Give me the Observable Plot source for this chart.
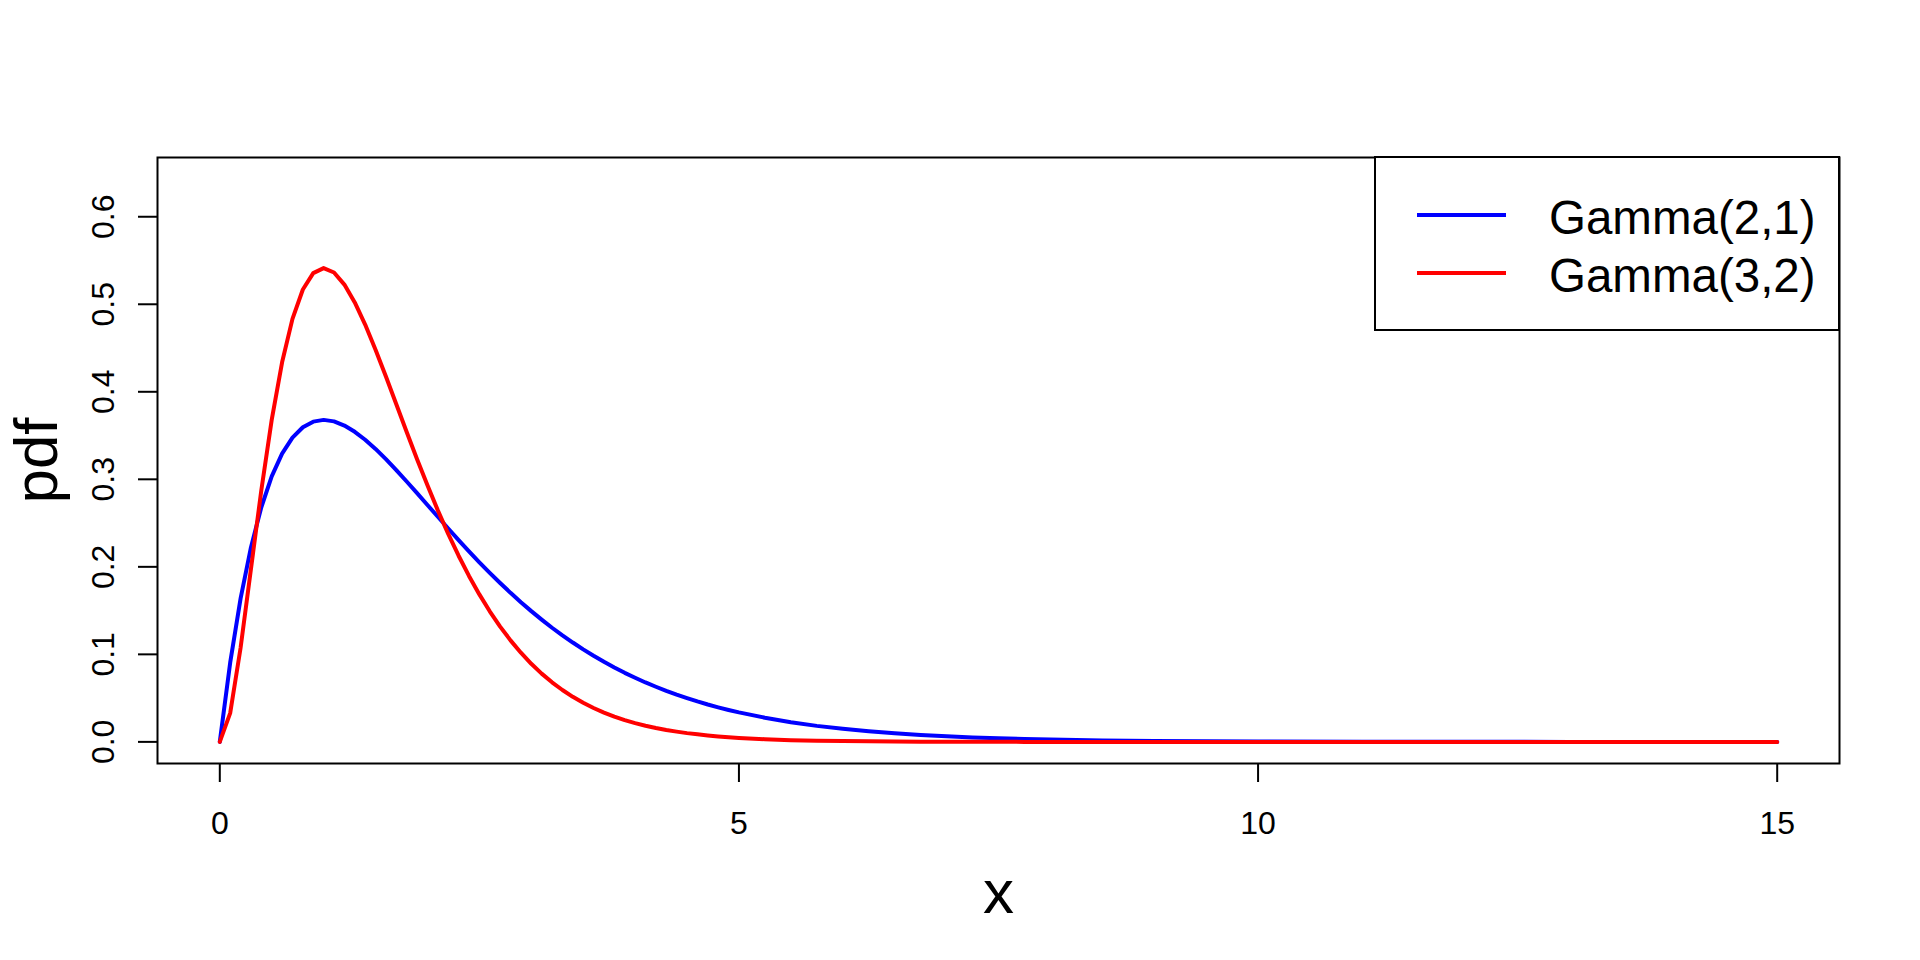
<!DOCTYPE html>
<html>
<head>
<meta charset="utf-8">
<script src="https://cdn.jsdelivr.net/npm/d3@7"></script>
<script src="https://cdn.jsdelivr.net/npm/@observablehq/plot@0.6"></script>
<style>
  html, body { margin: 0; padding: 0; background: #fff; }
  #wrap { position: relative; width: 1920px; height: 960px; }
  #legend { position: absolute; left: 0; top: 0; }
</style>
</head>
<body>
<div id="wrap"></div>
<script>
const xs = [
  0, 0.1, 0.2, 0.3, 0.4, 0.5, 0.6, 0.7, 0.8, 0.9,
  1.0, 1.1, 1.2, 1.3, 1.4, 1.5, 1.6, 1.7, 1.8, 1.9,
  2.0, 2.1, 2.2, 2.3, 2.4, 2.5, 2.6, 2.7, 2.8, 2.9,
  3.0, 3.1, 3.2, 3.3, 3.4, 3.5, 3.6, 3.7, 3.8, 3.9,
  4.0, 4.1, 4.2, 4.3, 4.4, 4.5, 4.6, 4.7, 4.8, 4.9,
  5.0, 5.25, 5.5, 5.75, 6.0, 6.25, 6.5, 6.75, 7.0, 7.25,
  7.5, 7.75, 8.0, 8.5, 9.0, 9.5, 10.0,
  11, 12, 13, 14, 15
];
const gamma21 = [
  0, 0.0905, 0.1637, 0.2222, 0.2681, 0.3033, 0.3293, 0.3476, 0.3595, 0.3659,
  0.3679, 0.3662, 0.3614, 0.3543, 0.3452, 0.3347, 0.3230, 0.3106, 0.2975, 0.2842,
  0.2707, 0.2572, 0.2438, 0.2306, 0.2177, 0.2052, 0.1931, 0.1815, 0.1703, 0.1596,
  0.1494, 0.1397, 0.1304, 0.1217, 0.1135, 0.1057, 0.0984, 0.0915, 0.0850, 0.0789,
  0.0733, 0.0679, 0.0630, 0.0583, 0.0540, 0.0500, 0.0462, 0.0427, 0.0395, 0.0365,
  0.0337, 0.0276, 0.0225, 0.0183, 0.0149, 0.0121, 0.0098, 0.0079, 0.0064, 0.0051,
  0.0041, 0.0033, 0.0027, 0.0017, 0.0011, 0.0007, 0.0005,
  0.0002, 0.0001, 0.0000, 0.0000, 0.0000
];
const gamma32 = [
  0, 0.0328, 0.1073, 0.1976, 0.2876, 0.3679, 0.4337, 0.4833, 0.5169, 0.5356,
  0.5413, 0.5363, 0.5225, 0.5021, 0.4768, 0.4481, 0.4174, 0.3858, 0.3541, 0.3230,
  0.2931, 0.2645, 0.2377, 0.2127, 0.1896, 0.1685, 0.1492, 0.1317, 0.1160, 0.1019,
  0.0892, 0.0780, 0.0681, 0.0593, 0.0515, 0.0447, 0.0387, 0.0335, 0.0289, 0.0249,
  0.0215, 0.0185, 0.0159, 0.0136, 0.0117, 0.0100, 0.0086, 0.0073, 0.0062, 0.0053,
  0.0045, 0.0030, 0.0020, 0.0013, 0.0009, 0.0006, 0.0004, 0.0002, 0.0002, 0.0001,
  0.0001, 0.0000, 0.0000, 0.0000, 0.0000, 0.0000, 0.0000,
  0, 0, 0, 0, 0
];
const seriesNames = ["Gamma(2,1)", "Gamma(3,2)"];
const seriesColors = ["#0000FF", "#FF0000"];
const xTicks = [0, 5, 10, 15];
const yTicks = [0, 0.1, 0.2, 0.3, 0.4, 0.5, 0.6];
const xTitle = "x";
const yTitle = "pdf";

const data21 = xs.map((x, i) => ({x, y: gamma21[i]}));
const data32 = xs.map((x, i) => ({x, y: gamma32[i]}));

const font = "'Liberation Sans', Arial, Helvetica, sans-serif";

const chart = Plot.plot({
  width: 1920,
  height: 960,
  marginLeft: 157,
  marginRight: 81,
  marginTop: 157,
  marginBottom: 197,
  style: {fontSize: "32px", fontFamily: font, color: "#000", background: "#fff"},
  x: {domain: [-0.6, 15.6]},
  y: {domain: [-0.0247, 0.6677]},
  marks: [
    Plot.axisX({ticks: xTicks, tickSize: 19, tickPadding: 29, strokeWidth: 2, label: null, tickFormat: d3.format("d")}),
    Plot.axisY({ticks: yTicks, tickSize: 19, tickPadding: 25, tickRotate: -90, strokeWidth: 2, label: null, tickFormat: d3.format(".1f")}),
    Plot.line(data21, {x: "x", y: "y", stroke: seriesColors[0], strokeWidth: 4}),
    Plot.line(data32, {x: "x", y: "y", stroke: seriesColors[1], strokeWidth: 4}),
    Plot.frame({stroke: "#000", strokeWidth: 2}),
    Plot.text([xTitle], {text: d => d, frameAnchor: "bottom", lineAnchor: "bottom", dy: 149, fontSize: 62}),
    Plot.text([yTitle], {text: d => d, frameAnchor: "left", lineAnchor: "bottom", textAnchor: "middle", rotate: -90, dx: -101, fontSize: 62})
  ]
});

const wrap = document.getElementById("wrap");
wrap.appendChild(chart);

// Legend overlay (top-right, inside plot box)
const NS = "http://www.w3.org/2000/svg";
const lg = document.createElementNS(NS, "svg");
lg.setAttribute("id", "legend");
lg.setAttribute("width", 1920);
lg.setAttribute("height", 960);
const box = document.createElementNS(NS, "rect");
box.setAttribute("x", 1375); box.setAttribute("y", 157);
box.setAttribute("width", 1839 - 1375); box.setAttribute("height", 330 - 157);
box.setAttribute("fill", "#fff"); box.setAttribute("stroke", "#000"); box.setAttribute("stroke-width", 2);
lg.appendChild(box);
seriesNames.forEach((name, i) => {
  const ly = 215 + i * 58;
  const ln = document.createElementNS(NS, "line");
  ln.setAttribute("x1", 1417); ln.setAttribute("x2", 1506);
  ln.setAttribute("y1", ly); ln.setAttribute("y2", ly);
  ln.setAttribute("stroke", seriesColors[i]); ln.setAttribute("stroke-width", 4);
  lg.appendChild(ln);
  const t = document.createElementNS(NS, "text");
  t.setAttribute("x", 1549); t.setAttribute("y", ly + 19);
  t.setAttribute("font-family", font); t.setAttribute("font-size", 47.5);
  t.setAttribute("fill", "#000");
  t.textContent = name;
  lg.appendChild(t);
});
wrap.appendChild(lg);
</script>
</body>
</html>
